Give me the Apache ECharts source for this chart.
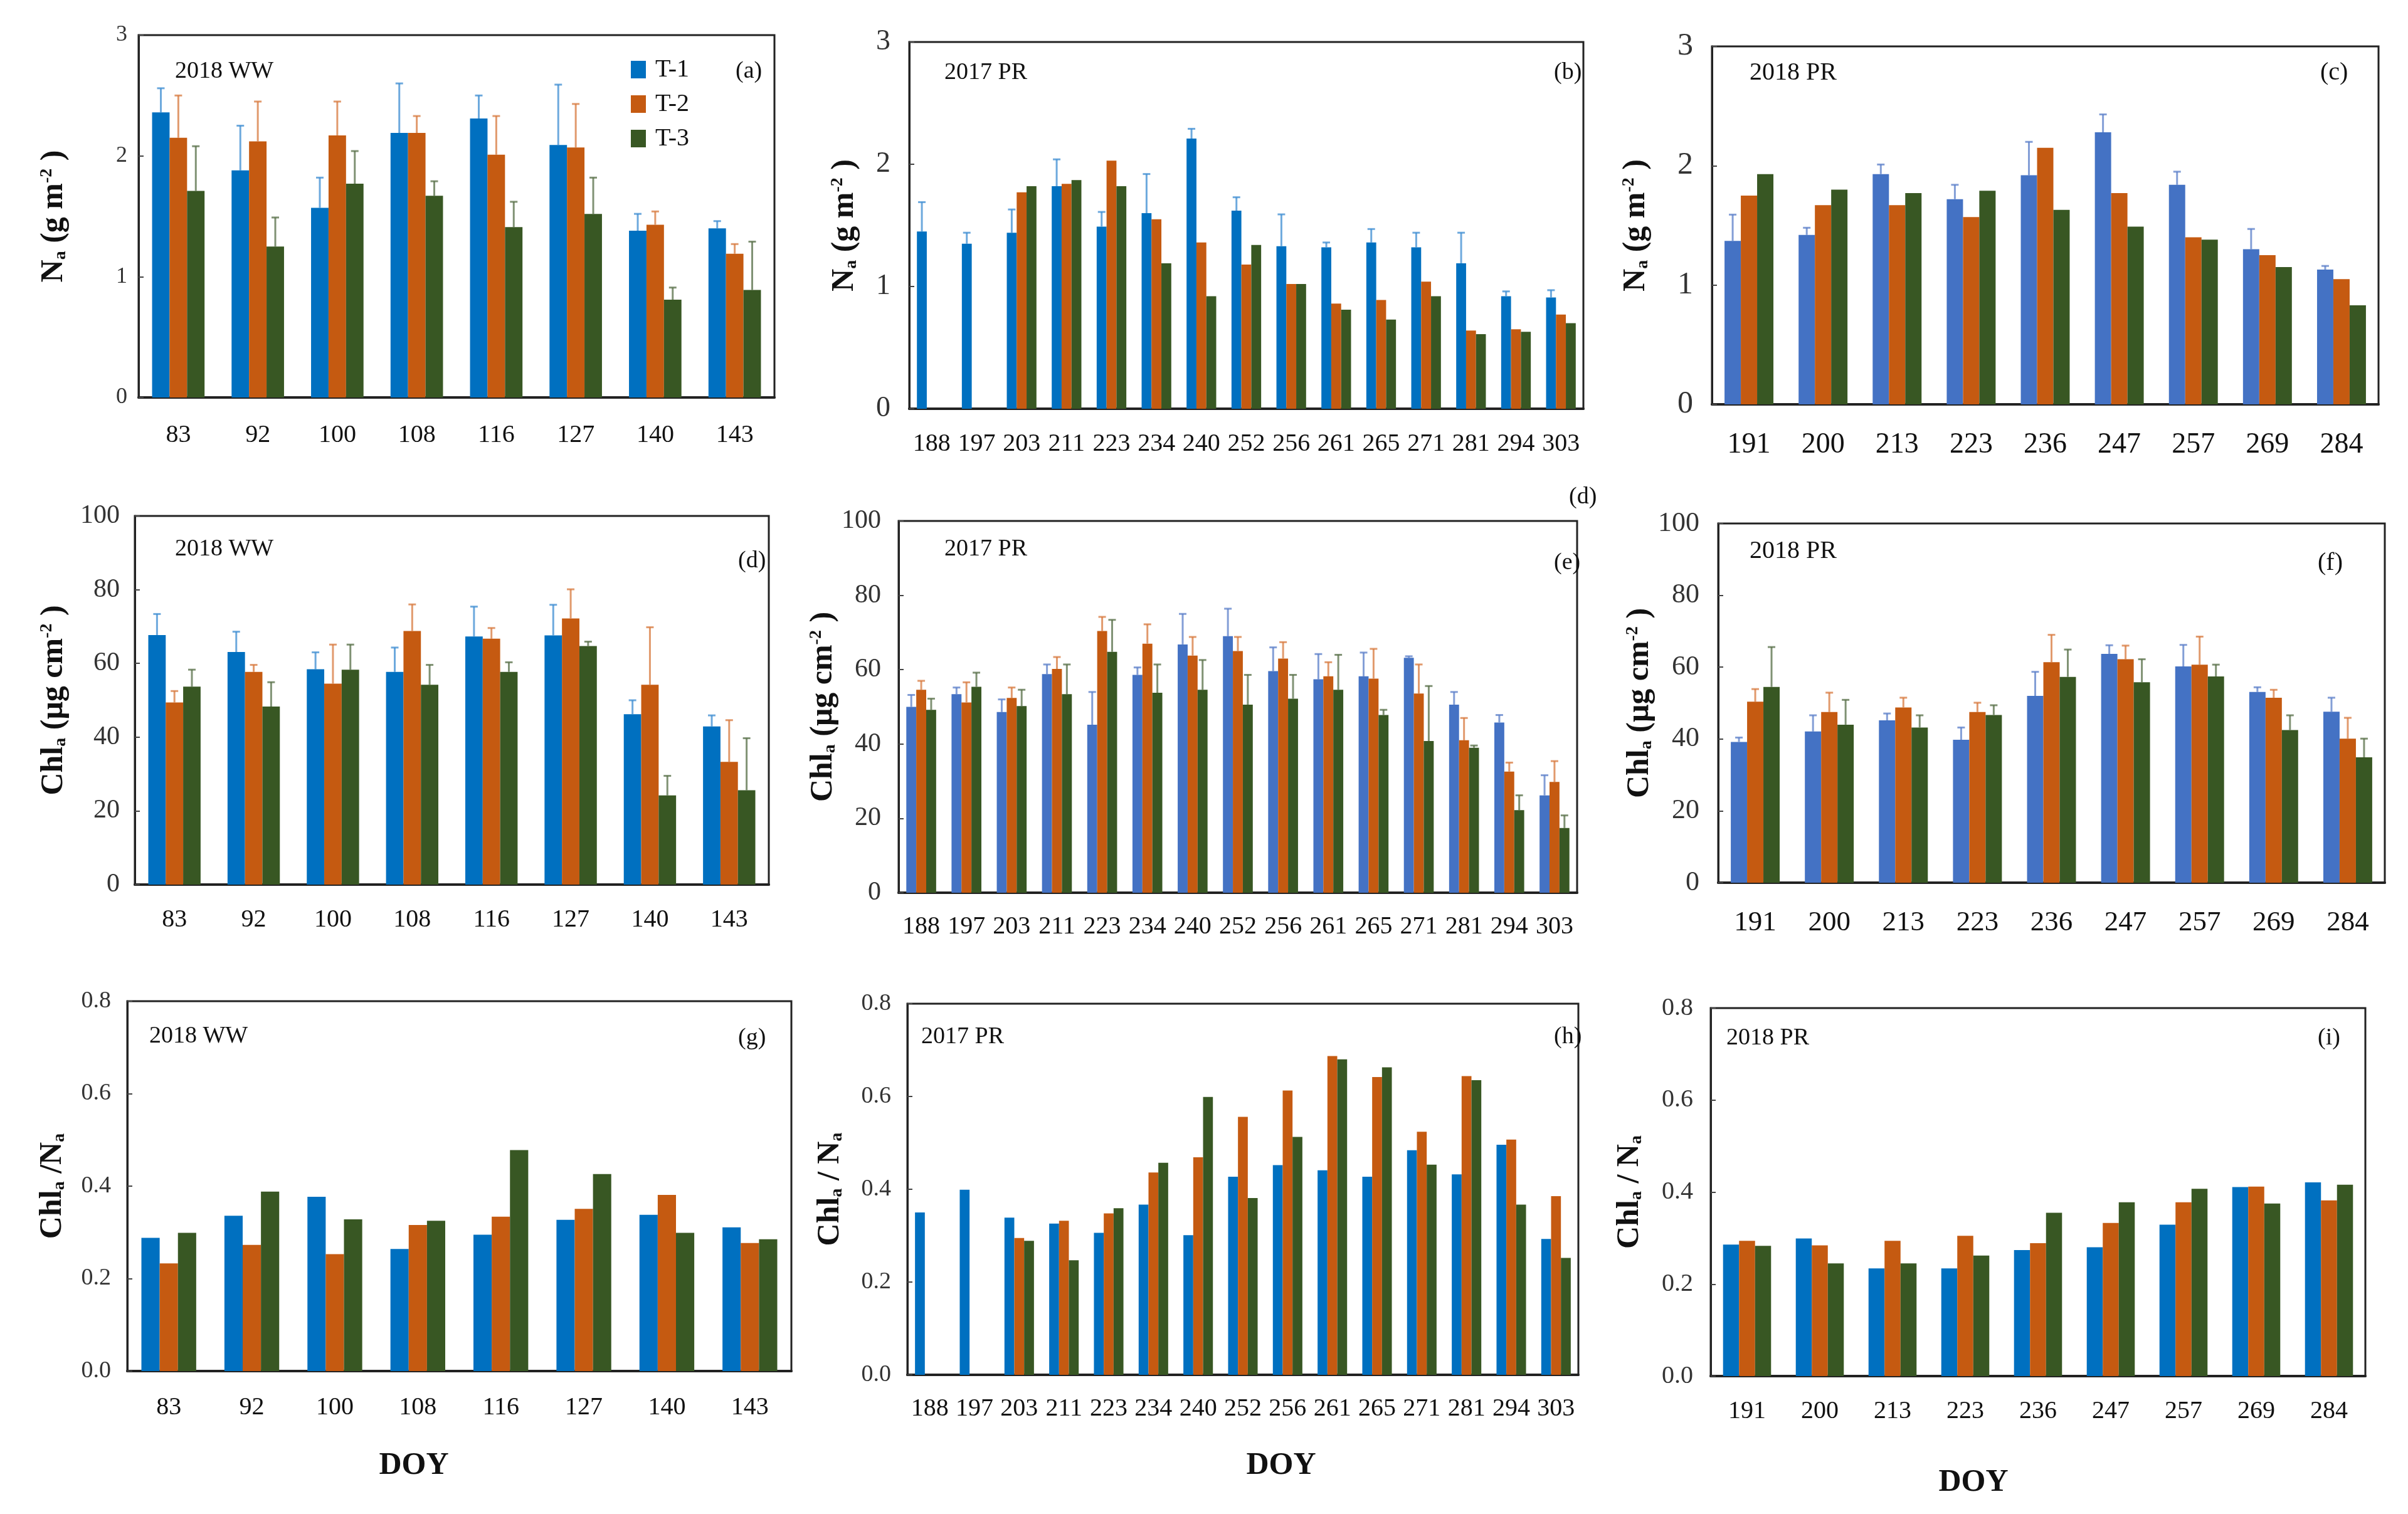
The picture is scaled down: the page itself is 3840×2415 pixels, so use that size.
<!DOCTYPE html>
<html>
<head>
<meta charset="utf-8">
<script src="https://cdn.jsdelivr.net/npm/echarts@6/dist/echarts.min.js"></script>
<style>
html,body{margin:0;padding:0;background:#fff;}
#chart{width:3840px;height:2415px;}
</style>
</head>
<body>
<div id="chart"></div>
<script>
// ---------- categories (DOY tick labels) ----------
const doyWW   = ['83','92','100','108','116','127','140','143'];
const doyPR17 = ['188','197','203','211','223','234','240','252','256','261','265','271','281','294','303'];
const doyPR18 = ['191','200','213','223','236','247','257','269','284'];
const seriesNames = ['T-1','T-2','T-3'];

// ---------- (a) Na 2018 WW ----------
const naWW_t1 = [2.36,1.88,1.57,2.19,2.31,2.09,1.38,1.40];
const naWW_e1 = [0.20,0.37,0.25,0.41,0.19,0.50,0.14,0.06];
const naWW_t2 = [2.15,2.12,2.17,2.19,2.01,2.07,1.43,1.19];
const naWW_e2 = [0.35,0.33,0.28,0.14,0.32,0.36,0.11,0.08];
const naWW_t3 = [1.71,1.25,1.77,1.67,1.41,1.52,0.81,0.89];
const naWW_e3 = [0.37,0.24,0.27,0.12,0.21,0.30,0.10,0.40];

// ---------- (b) Na 2017 PR ----------
const naP17_t1 = [1.45,1.35,1.44,1.82,1.49,1.60,2.21,1.62,1.33,1.32,1.36,1.32,1.19,0.92,0.91];
const naP17_e1 = [0.24,0.09,0.19,0.22,0.12,0.32,0.08,0.11,0.26,0.04,0.11,0.12,0.25,0.04,0.06];
const naP17_t2 = [null,null,1.77,1.84,2.03,1.55,1.36,1.18,1.02,0.86,0.89,1.04,0.64,0.65,0.77];
const naP17_t3 = [null,null,1.82,1.87,1.82,1.19,0.92,1.34,1.02,0.81,0.73,0.92,0.61,0.63,0.70];

// ---------- (c) Na 2018 PR ----------
const naP18_t1 = [1.37,1.42,1.93,1.72,1.92,2.28,1.84,1.30,1.13];
const naP18_e1 = [0.22,0.06,0.08,0.12,0.28,0.15,0.11,0.17,0.03];
const naP18_t2 = [1.75,1.67,1.67,1.57,2.15,1.77,1.40,1.25,1.05];
const naP18_t3 = [1.93,1.80,1.77,1.79,1.63,1.49,1.38,1.15,0.83];

// ---------- (d) Chla 2018 WW ----------
const chWW_t1 = [67.7,63.1,58.4,57.7,67.3,67.6,46.2,42.9];
const chWW_e1 = [5.7,5.5,4.6,6.6,8.1,8.3,3.8,3.0];
const chWW_t2 = [49.4,57.7,54.5,68.8,66.7,72.2,54.2,33.3];
const chWW_e2 = [3.1,1.9,10.6,7.2,2.9,7.9,15.6,11.3];
const chWW_t3 = [53.7,48.3,58.3,54.2,57.7,64.7,24.2,25.6];
const chWW_e3 = [4.6,6.6,6.8,5.4,2.6,1.2,5.3,14.1];

// ---------- (e) Chla 2017 PR ----------
const chP17_t1 = [50.0,53.4,48.6,58.8,45.2,58.6,66.8,69.0,59.6,57.4,58.2,63.2,50.6,45.8,26.2];
const chP17_e1 = [3.2,1.8,3.4,2.6,8.8,2.0,8.2,7.4,6.4,6.8,6.4,0.4,3.4,2.0,5.4];
const chP17_t2 = [54.6,51.2,52.4,60.2,70.4,67.0,63.8,65.0,63.0,58.2,57.6,53.6,41.0,32.6,29.8];
const chP17_e2 = [2.4,5.4,2.8,3.2,3.8,5.2,5.0,3.8,4.4,3.8,8.0,7.8,6.0,2.4,5.6];
const chP17_t3 = [49.2,55.4,50.2,53.4,64.8,53.8,54.6,50.6,52.2,54.6,47.8,40.8,39.0,22.2,17.4];
const chP17_e3 = [3.0,3.8,4.4,8.0,8.6,7.6,8.0,8.0,6.4,9.4,1.4,14.8,0.6,4.0,3.4];

// ---------- (f) Chla 2018 PR ----------
const chP18_t1 = [39.2,42.1,45.2,39.8,52.0,63.7,60.2,53.1,47.6];
const chP18_e1 = [1.2,4.5,1.9,3.4,6.7,2.4,6.0,1.3,3.9];
const chP18_t2 = [50.4,47.5,48.8,47.5,61.4,62.2,60.7,51.5,40.1];
const chP18_e2 = [3.5,5.4,2.7,2.6,7.6,3.8,7.8,2.2,5.8];
const chP18_t3 = [54.5,44.0,43.2,46.7,57.3,55.8,57.4,42.5,34.9];
const chP18_e3 = [11.1,6.9,3.4,2.7,7.6,6.4,3.3,4.1,5.2];

// ---------- (g) Chla/Na 2018 WW ----------
const rtWW_t1 = [0.288,0.336,0.377,0.264,0.295,0.327,0.338,0.311];
const rtWW_t2 = [0.233,0.273,0.253,0.316,0.334,0.351,0.381,0.277];
const rtWW_t3 = [0.299,0.388,0.328,0.325,0.478,0.426,0.299,0.285];

// ---------- (h) Chla/Na 2017 PR ----------
const rtP17_t1 = [0.350,0.399,0.339,0.326,0.306,0.367,0.301,0.427,0.452,0.441,0.427,0.484,0.432,0.496,0.293];
const rtP17_t2 = [null,null,0.295,0.332,0.348,0.436,0.469,0.556,0.613,0.687,0.642,0.524,0.644,0.507,0.385];
const rtP17_t3 = [null,null,0.289,0.247,0.359,0.457,0.599,0.381,0.513,0.680,0.663,0.453,0.635,0.367,0.252];

// ---------- (i) Chla/Na 2018 PR ----------
const rtP18_t1 = [0.286,0.299,0.234,0.234,0.274,0.280,0.329,0.411,0.421];
const rtP18_t2 = [0.294,0.284,0.294,0.305,0.289,0.333,0.378,0.412,0.382];
const rtP18_t3 = [0.283,0.245,0.245,0.262,0.355,0.378,0.407,0.375,0.416];

// ---------- styling ----------
const FONT = '"Liberation Serif","Times New Roman",serif';
const BLUE = '#0070C0', BLUE2 = '#4472C4', ORANGE = '#C55A11', GREEN = '#385723';
const ERRC = {'#0070C0':'rgba(60,140,210,0.75)','#4472C4':'rgba(90,125,200,0.75)','#C55A11':'rgba(215,120,60,0.75)','#385723':'rgba(85,110,70,0.75)'};
const GAP = 0.34;

const nameNa = 'N{sub|a} (g m{sup|-2} )';
const nameCh = 'Chl{sub|a} (μg cm{sup|-2} )';
const nameRtG = 'Chl{sub|a} /N{sub|a}';
const nameRt = 'Chl{sub|a} / N{sub|a}';

const panels = [
  {cats:doyWW,   g:[221,56,1014,578],  y:[0,3,1],    yl:36, xl:40, ym:18, xm:40, name:nameNa, ng:110, blue:BLUE,
   vals:[naWW_t1,naWW_t2,naWW_t3], errs:[naWW_e1,naWW_e2,naWW_e3]},
  {cats:doyPR17, g:[1450,67,1075,585], y:[0,3,1],    yl:46, xl:40, ym:30, xm:36, name:nameNa, ng:78, blue:BLUE,
   vals:[naP17_t1,naP17_t2,naP17_t3], errs:[naP17_e1,null,null]},
  {cats:doyPR18, g:[2730,74,1063,571], y:[0,3,1],    yl:50, xl:46, ym:30, xm:42, name:nameNa, ng:96, blue:BLUE2,
   vals:[naP18_t1,naP18_t2,naP18_t3], errs:[naP18_e1,null,null]},
  {cats:doyWW,   g:[215,823,1011,588], y:[0,100,20], yl:42, xl:40, ym:24, xm:36, name:nameCh, ng:104, blue:BLUE,
   vals:[chWW_t1,chWW_t2,chWW_t3], errs:[chWW_e1,chWW_e2,chWW_e3]},
  {cats:doyPR17, g:[1433,831,1082,593],y:[0,100,20], yl:42, xl:40, ym:28, xm:34, name:nameCh, ng:84, blue:BLUE2,
   vals:[chP17_t1,chP17_t2,chP17_t3], errs:[chP17_e1,chP17_e2,chP17_e3]},
  {cats:doyPR18, g:[2740,835,1063,573],y:[0,100,20], yl:44, xl:45, ym:30, xm:42, name:nameCh, ng:94, blue:BLUE2,
   vals:[chP18_t1,chP18_t2,chP18_t3], errs:[chP18_e1,chP18_e2,chP18_e3]},
  {cats:doyWW,   g:[203,1597,1059,590],y:[0,0.8,0.2],yl:38, xl:40, ym:26, xm:38, name:nameRtG, ng:94, blue:BLUE,
   vals:[rtWW_t1,rtWW_t2,rtWW_t3], errs:[null,null,null]},
  {cats:doyPR17, g:[1447,1601,1070,592],y:[0,0.8,0.2],yl:38, xl:40, ym:26, xm:34, name:nameRt, ng:98, blue:BLUE,
   vals:[rtP17_t1,rtP17_t2,rtP17_t3], errs:[null,null,null]},
  {cats:doyPR18, g:[2728,1608,1044,587],y:[0,0.8,0.2],yl:40, xl:40, ym:28, xm:36, name:nameRt, ng:104, blue:BLUE,
   vals:[rtP18_t1,rtP18_t2,rtP18_t3], errs:[null,null,null]}
];

function errRender(pos, color) {
  return function (params, api) {
    const i = api.value(0), m = api.value(1), sd = api.value(2);
    if (m == null || isNaN(m) || sd == null || isNaN(sd)) return;
    const band = api.size([1, 0])[0];
    const bw = band * (1 - GAP) / 3;
    const base = api.coord([i, m]);
    const top = api.coord([i, m + sd]);
    const x = base[0] - 1.5 * bw + bw * (pos + 0.5);
    return {
      type: 'group',
      children: [
        {type:'line', shape:{x1:x, y1:base[1], x2:x, y2:top[1]}, style:{stroke:color, lineWidth:3}},
        {type:'line', shape:{x1:x-6, y1:top[1], x2:x+6, y2:top[1]}, style:{stroke:color, lineWidth:3}}
      ]
    };
  };
}

const grids = [], xAxes = [], yAxes = [], series = [];
panels.forEach((p, k) => {
  grids.push({left:p.g[0], top:p.g[1], width:p.g[2], height:p.g[3], show:true,
    borderColor:'#222', borderWidth:3, containLabel:false, outerBoundsMode:'none'});
  xAxes.push({type:'category', gridIndex:k, data:p.cats,
    axisLine:{lineStyle:{color:'#222', width:4}},
    axisTick:{inside:true, length:17, interval:0, lineStyle:{color:'#444', width:2}},
    axisLabel:{interval:0, fontFamily:FONT, fontSize:p.xl, color:'#111', margin:p.xm},
    splitLine:{show:false}});
  const dec = p.y[2] < 1 ? 1 : 0;
  yAxes.push({type:'value', gridIndex:k, min:p.y[0], max:p.y[1], interval:p.y[2],
    axisLine:{show:true, lineStyle:{color:'#222', width:3}},
    axisTick:{show:true, inside:true, length:8, lineStyle:{color:'#444', width:2}},
    axisLabel:{fontFamily:FONT, fontSize:p.yl, color:'#333', margin:p.ym,
      formatter: v => v.toFixed(dec)},
    splitLine:{show:false},
    name:p.name, nameLocation:'middle', nameRotate:90, nameGap:p.ng,
    nameTextStyle:{fontFamily:FONT, fontWeight:'bold', fontSize:50, color:'#111',
      rich:{
        sub:{fontFamily:FONT, fontWeight:'bold', fontSize:28, color:'#111', verticalAlign:'bottom', padding:[20,0,0,0]},
        sup:{fontFamily:FONT, fontWeight:'bold', fontSize:28, color:'#111', verticalAlign:'top', padding:[0,0,22,0]}
      }}});
  const cols = [p.blue, ORANGE, GREEN];
  p.vals.forEach((v, s) => {
    series.push({type:'bar', name:seriesNames[s], xAxisIndex:k, yAxisIndex:k, data:v,
      itemStyle:{color:cols[s]}, barGap:'0%', barCategoryGap:(GAP*100)+'%', silent:true});
  });
  p.errs.forEach((e, s) => {
    if (!e) return;
    series.push({type:'custom', name:'err'+s, xAxisIndex:k, yAxisIndex:k, z:4, silent:true,
      encode:{x:0, y:1},
      renderItem: errRender(s, ERRC[cols[s]]),
      data: e.map((sd, i) => [i, p.vals[s][i], sd])});
  });
});

function txt(x, y, t, size, bold, align) {
  return {type:'text', x:x, y:y, z:10, style:{text:t, fill:'#111',
    font:(bold ? 'bold ' : '') + size + 'px ' + FONT, align:align || 'left', verticalAlign:'middle'}};
}
const annotations = [
  txt(279,114,'2018 WW',38), txt(1173,114,'(a)',38),
  txt(1506,116,'2017 PR',38), txt(2478,116,'(b)',38),
  txt(2790,116,'2018 PR',40), txt(3700,116,'(c)',40),
  txt(279,876,'2018 WW',38), txt(1177,895,'(d)',38),
  txt(1506,876,'2017 PR',38), txt(2478,898,'(e)',38), txt(2502,793,'(d)',38),
  txt(2790,879,'2018 PR',40), txt(3696,898,'(f)',40),
  txt(238,1653,'2018 WW',38), txt(1177,1656,'(g)',38),
  txt(1469,1654,'2017 PR',38), txt(2478,1654,'(h)',38),
  txt(2753,1656,'2018 PR',38), txt(3696,1656,'(i)',38),
  txt(660,2338,'DOY',50,true,'center'), txt(2043,2338,'DOY',50,true,'center'), txt(3147,2365,'DOY',50,true,'center')
];

const chart = echarts.init(document.getElementById('chart'), null, {renderer:'canvas'});
chart.setOption({
  animation:false,
  backgroundColor:'#fff',
  legend:{data:seriesNames, orient:'vertical', left:1001, top:86, itemWidth:24, itemHeight:28, itemGap:15,
    icon:'rect', textStyle:{fontFamily:FONT, fontSize:40, color:'#111', padding:[0,0,0,10]}, selectedMode:false},
  grid:grids, xAxis:xAxes, yAxis:yAxes, series:series, graphic:annotations
});
</script>
</body>
</html>
